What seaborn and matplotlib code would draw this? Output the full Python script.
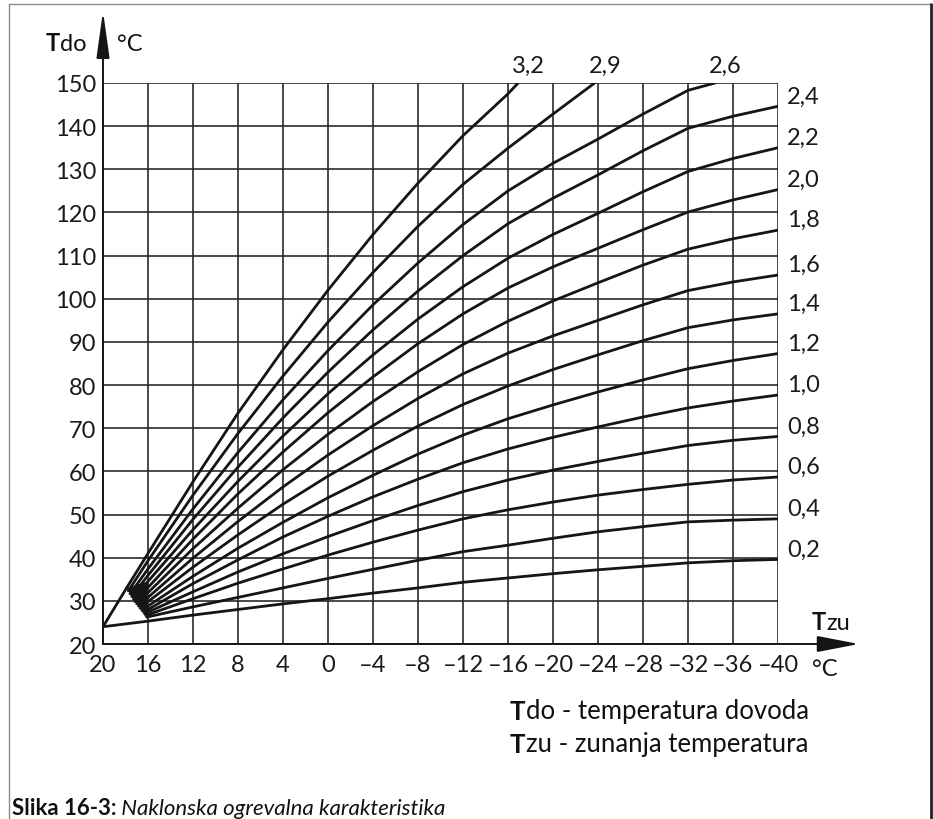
import matplotlib
matplotlib.use("Agg")
import matplotlib.pyplot as plt
import seaborn as sns
import pandas as pd
from matplotlib.lines import Line2D

# ---------------- data ----------------
slope_labels = ["0,2", "0,4", "0,6", "0,8", "1,0", "1,2", "1,4", "1,6",
                "1,8", "2,0", "2,2", "2,4", "2,6", "2,9", "3,2"]

# outside temperature grid (Tzu)
T_grid = [16, 12, 8, 4, 0, -4, -8, -12, -16, -20, -24, -28, -32, -36, -40]

# start point of each curve (left fan)
start_T = [20.0, 16.1, 16.2, 16.3, 16.4, 16.55, 16.7, 16.85,
           17.0, 17.15, 17.3, 17.45, 17.6, 17.75, 17.9]
start_V = [24.0, 26.2, 26.6, 27.0, 27.4, 27.8, 28.3, 28.8,
           29.3, 29.8, 30.4, 31.0, 31.6, 32.3, 33.0]

# flow temperature (Tdo) at T_grid
k02 = [25.3, 26.7, 28.0, 29.3, 30.5, 31.8, 33.0, 34.3, 35.3, 36.3, 37.2, 38.0, 38.8, 39.3, 39.6]
k04 = [26.3, 28.6, 30.8, 33.0, 35.2, 37.3, 39.4, 41.4, 42.9, 44.5, 46.0, 47.2, 48.3, 48.7, 49.0]
k06 = [26.8, 30.5, 34.1, 37.4, 40.6, 43.6, 46.4, 49.0, 51.1, 52.9, 54.5, 55.8, 57.0, 58.0, 58.7]
k08 = [27.4, 32.1, 36.7, 40.9, 44.9, 48.6, 52.1, 55.3, 58.0, 60.3, 62.3, 64.2, 66.0, 67.2, 68.1]
k10 = [28.0, 34.0, 39.5, 44.8, 49.6, 54.1, 58.2, 62.0, 65.2, 67.9, 70.3, 72.6, 74.7, 76.3, 77.7]
k12 = [28.8, 35.7, 42.2, 48.2, 53.9, 59.1, 64.0, 68.4, 72.2, 75.4, 78.4, 81.2, 83.8, 85.7, 87.3]
k14 = [29.8, 37.8, 45.3, 52.4, 58.9, 64.9, 70.5, 75.5, 79.8, 83.6, 87.0, 90.3, 93.3, 95.1, 96.5]
k16 = [30.8, 39.9, 48.4, 56.4, 63.8, 70.6, 76.9, 82.6, 87.4, 91.4, 95.0, 98.6, 101.9, 103.9, 105.5]
k18 = [31.9, 42.1, 51.5, 60.4, 68.6, 76.2, 83.1, 89.4, 94.8, 99.5, 103.7, 107.8, 111.5, 113.9, 115.9]
k20 = [33.1, 44.3, 54.8, 64.5, 73.6, 81.9, 89.6, 96.5, 102.5, 107.4, 111.7, 116.0, 120.1, 122.9, 125.3]
k22 = [34.5, 46.5, 57.7, 68.2, 78.0, 87.0, 95.3, 102.8, 109.4, 114.9, 119.8, 124.8, 129.5, 132.5, 135.0]
k24 = [35.9, 48.9, 61.0, 72.4, 83.0, 92.8, 101.8, 110.0, 117.4, 123.3, 128.7, 134.3, 139.5, 142.3, 144.6]
k26 = [37.4, 51.3, 64.4, 76.6, 88.0, 98.6, 108.3, 117.2, 125.0, 131.4, 137.0, 142.8, 148.3]
k29 = [39.3, 54.5, 68.8, 82.1, 94.6, 106.1, 116.8, 126.5, 134.9, 142.8]
k32 = [41.0, 57.6, 73.5, 88.2, 102.0, 114.9, 126.8, 137.8, 147.5]
curve_values = [k02, k04, k06, k08, k10, k12, k14, k16, k18, k20, k22, k24, k26, k29, k32]

# curves leaving the chart at the top (Tdo = 150): outside temperature where they end
top_end_T = {"2,6": -34.4, "2,9": -23.7, "3,2": -16.9}

x_ticks = [20, 16, 12, 8, 4, 0, -4, -8, -12, -16, -20, -24, -28, -32, -36, -40]
x_tick_labels = ["20", "16", "12", "8", "4", "0", "–4", "–8", "–12", "–16",
                 "–20", "–24", "–28", "–32", "–36", "–40"]
y_ticks = [20, 30, 40, 50, 60, 70, 80, 90, 100, 110, 120, 130, 140, 150]
y_tick_labels = [str(v) for v in y_ticks]

# ---------------- long table ----------------
rows = []
for lab, st, sv, vals in zip(slope_labels, start_T, start_V, curve_values):
    xs = [st] + T_grid[:len(vals)]
    ys = [sv] + vals
    if lab in top_end_T:
        xs.append(top_end_T[lab])
        ys.append(y_ticks[-1])
    for x, y in zip(xs, ys):
        rows.append((lab, x, y))
df = pd.DataFrame(rows, columns=["naklon", "Tzu", "Tdo"])

# ---------------- figure ----------------
sns.set_style("white")
plt.rcParams["font.family"] = ["Lato", "DejaVu Sans"]

W, H = 933, 820
fig = plt.figure(figsize=(W / 100, H / 100), dpi=100)
ax = fig.add_axes([103 / W, 1 - 645 / H, 675 / W, 561 / H])

ink = "#151515"
grid_c = "#2a2a2a"

sns.lineplot(data=df, x="Tzu", y="Tdo", hue="naklon",
             palette={l: ink for l in slope_labels}, legend=False,
             estimator=None, sort=False, linewidth=2.0, ax=ax, zorder=3)

# left edge of the fan (triangle) and the dense wedge where the curves meet
ax.plot([start_T[0], start_T[-1]], [start_V[0], start_V[-1]], color=ink,
        lw=2.0, zorder=3, solid_capstyle="round")
wedge_T = start_T[1:] + [T_grid[0]]
wedge_V = start_V[1:] + [k22[0]]
ax.fill(wedge_T, wedge_V, color=ink, lw=0, zorder=3)

ax.set_xlim(20, -40)
ax.set_ylim(20, 150)
ax.set_xticks(x_ticks)
ax.set_xticklabels(x_tick_labels)
ax.set_yticks(y_ticks)
ax.set_yticklabels(y_tick_labels)
ax.set_xlabel("")
ax.set_ylabel("")
ax.grid(True, color=grid_c, lw=1.2)
ax.set_axisbelow(True)
for s in ax.spines.values():
    s.set_visible(False)
ax.tick_params(axis="both", direction="out", length=4, width=1.1, color=grid_c,
               labelsize=17, labelcolor="#1a1a1a")
ax.tick_params(axis="x", pad=3)
ax.tick_params(axis="y", pad=1)

# axes arrows
ax.annotate("", xy=(20, 166.7), xytext=(20, 20), annotation_clip=False,
            arrowprops=dict(arrowstyle="-|>,head_length=1.44,head_width=0.2",
                            mutation_scale=20, lw=1.4, color=ink,
                            shrinkA=0, shrinkB=0))
ax.annotate("", xy=(-47.2, 20), xytext=(20, 20), annotation_clip=False,
            arrowprops=dict(arrowstyle="-|>,head_length=1.3,head_width=0.25",
                            mutation_scale=20, lw=1.4, color=ink,
                            shrinkA=0, shrinkB=0))

# curve labels
for lab, vals in zip(slope_labels, curve_values):
    if lab in top_end_T:
        ax.text(top_end_T[lab] - 0.9, 152.6, lab, ha="center", va="baseline",
                fontsize=17, color="#1a1a1a")
    else:
        ax.text(-40.8, vals[-1] + 2.4, lab, ha="left", va="center",
                fontsize=17, color="#1a1a1a")

# axis titles
def two_part(x, y, a, b, size, wa="bold", wb="normal", sb="normal"):
    t1 = fig.text(x / W, 1 - y / H, a, fontsize=size, weight=wa, va="baseline",
                  color="#111111")
    ax.annotate(b, xy=(1, 0), xycoords=t1, va="bottom", ha="left",
                fontsize=size, weight=wb, style=sb, color="#111111",
                annotation_clip=False)
    return t1

two_part(46, 51, "T", "do", 17)
fig.text(117 / W, 1 - 51 / H, "°C", fontsize=17, va="baseline", color="#111111")
two_part(812, 630, "T", "zu", 17)
fig.text(812 / W, 1 - 676 / H, "°C", fontsize=17, va="baseline", color="#111111")

# explanation
two_part(510, 720, "T", "do - temperatura dovoda", 18.5)
two_part(510, 753, "T", "zu - zunanja temperatura", 18.5)

# caption
two_part(12, 815, "Slika 16-3:", " Naklonska ogrevalna karakteristika", 16,
         wa="bold", wb="normal", sb="italic")

# frame
fig.add_artist(Line2D([9 / W, 9 / W], [0, 1 - 5 / H], transform=fig.transFigure,
                      color="#8a8a8a", lw=1.0))
fig.add_artist(Line2D([9 / W, 931 / W], [1 - 5 / H, 1 - 5 / H],
                      transform=fig.transFigure, color="#8a8a8a", lw=1.0))
fig.add_artist(Line2D([931 / W, 931 / W], [0, 1 - 5 / H], transform=fig.transFigure,
                      color="#222222", lw=2.0))

fig.savefig("out.png", dpi=100)
